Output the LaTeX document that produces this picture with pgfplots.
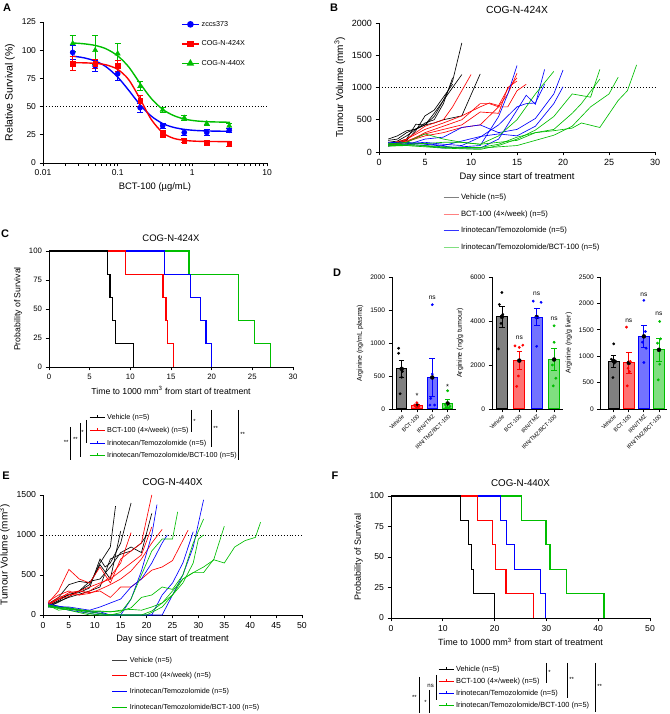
\documentclass[border=0pt]{standalone}
\usepackage{fontspec}
\setmainfont{Liberation Sans}
\usepackage{pgfplots}
\pgfplotsset{compat=1.18}
\definecolor{gpblue}{RGB}{0,0,255}
\definecolor{gpred}{RGB}{255,0,0}
\definecolor{gpgreen}{RGB}{0,190,0}
\definecolor{gpgray}{RGB}{128,128,128}
\newcommand{\fs}[1]{\fontsize{#1}{#1}\selectfont}
\pgfplotsset{
 gp/.style={scale only axis, axis lines*=left, tick align=outside,
  axis line style={line width=0.8pt}, tick style={black, line width=0.8pt},
  major tick length=3.5pt, minor tick num=0,
  tick label style={font=\fs{8.5}},
  xlabel style={font=\fs{9.4}},
  ylabel style={font=\fs{10}},
  title style={font=\fs{10}},
  /pgf/number format/assume math mode=true,
  /pgf/number format/1000 sep={},
  clip=false, legend cell align=left},
 spag/.style={forget plot, line width=0.65pt},
 lineleg/.style={legend image code/.code={\draw[##1, line width=0.8pt] (0pt,0pt) -- (15pt,0pt);}},
 kmleg/.style={legend image code/.code={\draw[##1, line width=1pt] (0pt,0pt) -- (15pt,0pt); \draw[##1, line width=0.8pt] (7.5pt,0pt) -- (7.5pt,2.5pt);}},
 km/.style={forget plot, const plot, line width=1.3pt},
 dax/.style={gp, ymin=0, height=132pt, xtick={0,1,2,3},
  xticklabels={Vehicle,BCT-100,IRN/TMZ,IRN/TMZ/BCT-100},
  xticklabel style={rotate=45, anchor=north east, font=\fs{5.6}, inner sep=1pt},
  yticklabel style={font=\fs{6.6}},
  ylabel style={font=\fs{7}}},
 dbar/.style={forget plot, ybar, bar shift=0pt, line width=1pt},
 derr/.style={forget plot, only marks, mark=none, error bars/.cd, y dir=both, y explicit,
  error bar style={line width=0.8pt, #1}, error mark options={rotate=90, mark size=2.8pt, line width=0.8pt, #1}},
 ddot/.style={forget plot, only marks, mark=*, mark size=1.2pt, #1},
}
\begin{document}
\begin{tikzpicture}[x=1pt,y=1pt]
\useasboundingbox (0,0) rectangle (669,714);
% ---------- A ----------
\begin{axis}[gp, at={(43pt,551pt)}, anchor=south west, width=224pt, height=141pt,
 xmode=log, xmin=0.01, xmax=10, ymin=0, ymax=125,
 xtick={0.01,0.1,1,10}, xticklabels={0.01,0.1,1,10}, minor xtick={},
 ytick={0,25,50,75,100,125},
 xlabel={BCT-100 (µg/mL)}, ylabel={Relative Survival (\%)},
 ylabel style={font=\fs{10.5}},
 legend style={draw=none, fill=none, font=\fs{7.2}, at={(0.616,1.022)}, anchor=north west, row sep=9pt, inner sep=0pt}]
\addplot[forget plot, black, dotted, line width=0.9pt] coordinates {(0.01,50) (10,50)};
\addplot[forget plot, gpgreen, line width=1.4pt, smooth] coordinates {(0.025,106.4) (0.035,105.7) (0.05,104.2) (0.07,101.2) (0.1,95.0) (0.14,85.3) (0.2,70.5) (0.28,57.4) (0.4,47.6) (0.56,42.1) (0.8,38.8) (1.13,37.3) (1.6,36.6) (2.26,36.3) (3.2,36.1)};
\addplot[forget plot, gpblue, line width=1.4pt, smooth] coordinates {(0.025,94.7) (0.035,93.3) (0.05,90.4) (0.07,85.3) (0.1,76.2) (0.14,64.6) (0.2,51.6) (0.28,41.7) (0.4,35.0) (0.56,31.6) (0.8,29.7) (1.13,28.8) (1.6,28.4) (2.26,28.2) (3.2,28.1)};
\addplot[forget plot, gpred, line width=1.4pt, smooth] coordinates {(0.025,88.9) (0.035,88.8) (0.05,88.3) (0.07,87.0) (0.1,83.0) (0.14,74.0) (0.2,56.7) (0.28,38.9) (0.4,26.9) (0.56,21.9) (0.8,20.0) (1.13,19.3) (1.6,19.1) (2.26,19.0) (3.2,19.0)};
\addplot[forget plot, only marks, mark=triangle*, mark size=3pt, gpgreen, error bars/.cd, y dir=both, y explicit, error bar style={line width=1pt, gpgreen}, error mark options={rotate=90, mark size=3pt, line width=1pt, gpgreen}] coordinates {(0.025,106) +- (0,7) (0.05,100) +- (0,13) (0.1,97) +- (0,9) (0.2,68) +- (0,4) (0.4,47) +- (0,2) (0.78,40) +- (0,2) (1.56,35) +- (0,2) (3.125,33) +- (0,2)};
\addplot[forget plot, only marks, mark=*, mark size=2.6pt, gpblue, error bars/.cd, y dir=both, y explicit, error bar style={line width=1pt, gpblue}, error mark options={rotate=90, mark size=3pt, line width=1pt, gpblue}] coordinates {(0.025,98) +- (0,6) (0.05,86) +- (0,5) (0.1,79) +- (0,6) (0.2,49) +- (0,4) (0.4,33) +- (0,2) (0.78,27) +- (0,3) (1.56,27) +- (0,3) (3.125,29) +- (0,2)};
\addplot[forget plot, only marks, mark=square*, mark size=2.4pt, gpred, error bars/.cd, y dir=both, y explicit, error bar style={line width=1pt, gpred}, error mark options={rotate=90, mark size=3pt, line width=1pt, gpred}] coordinates {(0.025,88) +- (0,6) (0.05,88) +- (0,4) (0.1,86) +- (0,5) (0.2,55) +- (0,5) (0.4,26) +- (0,3) (0.78,20) +- (0,2) (1.56,18) +- (0,2) (3.125,17) +- (0,2)};
\addlegendimage{gpblue, line width=1.4pt, mark=*, mark size=2.6pt}
\addlegendentry{zccs373}
\addlegendimage{gpred, line width=1.4pt, mark=square*, mark size=2.4pt}
\addlegendentry{COG-N-424X}
\addlegendimage{gpgreen, line width=1.4pt, mark=triangle*, mark size=3pt}
\addlegendentry{COG-N-440X}
\end{axis}
% ---------- B ----------
\begin{axis}[gp, lineleg, at={(379pt,562pt)}, anchor=south west, width=276pt, height=129pt,
 xmin=0, xmax=30, ymin=0, ymax=2000, xtick={0,5,...,30}, ytick={0,500,...,2000},
 tick label style={font=\fs{9}}, title style={font=\fs{10.3}},
 title={COG-N-424X}, xlabel={Day since start of treatment}, ylabel={Tumour Volume (mm\textsuperscript{3})},
 legend style={draw=none, fill=none, font=\fs{7.7}, at={(0.232,-0.31)}, anchor=north west, row sep=5.5pt, inner sep=0pt}]
\addplot[forget plot, black, dotted, line width=0.9pt] coordinates {(0,1000) (30,1000)};
% vehicle
\addplot[spag, black] coordinates {(1,180) (2,200) (3,300) (5,420) (6,550) (7,800) (8,1100) (9,1690)};
\addplot[spag, black] coordinates {(1,150) (2,170) (3,250) (5,450) (6,500) (7,750) (8,1150)};
\addplot[spag, black] coordinates {(1,200) (2,250) (3,330) (4,350) (5,420) (6,600) (7,800) (8,1000) (9,1200)};
\addplot[spag, black] coordinates {(1,120) (2,150) (3,200) (4,430) (5,420) (6,450) (7,500) (8,530) (9,560) (11,1210)};
\addplot[spag, black] coordinates {(1,110) (2,140) (3,180) (4,330) (5,560) (6,650) (7,850) (8,1050)};
% BCT-100
\addplot[spag, gpred] coordinates {(1,100) (2,110) (3,200) (4,300) (5,400) (6,450) (7,500) (8,700) (9,950) (10,1200)};
\addplot[spag, gpred] coordinates {(1,90) (3,150) (5,300) (7,400) (9,500) (11,750) (12,750) (13,700) (14,900) (15,1220)};
\addplot[spag, gpred] coordinates {(1,110) (3,170) (5,280) (7,350) (9,420) (11,620) (13,600) (14,1000) (15,1100)};
\addplot[spag, gpred] coordinates {(1,100) (3,160) (5,250) (7,300) (9,380) (11,420) (13,700) (14,700) (15,950) (16,1050)};
\addplot[spag, gpred] coordinates {(1,120) (3,200) (5,350) (7,450) (9,560) (11,700) (12,760) (13,720) (14,980) (15,1150)};
% IRN/TMZ
\addplot[spag, gpblue] coordinates {(1,130) (3,120) (5,100) (7,60) (9,80) (11,100) (13,550) (14,900) (15,1340)};
\addplot[spag, gpblue] coordinates {(1,120) (3,150) (5,120) (7,90) (9,60) (11,60) (13,200) (15,650) (16,880) (17,740) (18,1280)};
\addplot[spag, gpblue] coordinates {(1,100) (3,110) (5,200) (7,230) (9,380) (11,420) (13,300) (15,350) (17,520) (19,900) (20,1270)};
\addplot[spag, gpblue] coordinates {(1,150) (3,140) (5,130) (7,100) (9,170) (11,240) (13,280) (15,250) (17,400) (19,750) (20,1010)};
\addplot[spag, gpblue] coordinates {(1,90) (3,130) (5,150) (7,120) (9,100) (11,230) (13,420) (15,700) (16,750) (17,760) (18,1050)};
% combo
\addplot[spag, gpgreen] coordinates {(1,120) (3,150) (5,280) (7,200) (9,150) (11,120) (13,250) (15,500) (17,900) (19,1250)};
\addplot[spag, gpgreen] coordinates {(1,100) (3,100) (5,80) (7,60) (9,50) (11,40) (13,100) (15,200) (17,340) (19,550) (21,900) (23,850) (24,1280)};
\addplot[spag, gpgreen] coordinates {(1,110) (3,120) (5,100) (7,80) (9,70) (11,70) (13,120) (15,230) (17,300) (19,330) (21,370) (22,450) (24,380) (26,800) (27,950) (28,1350)};
\addplot[spag, gpgreen] coordinates {(1,90) (3,100) (5,90) (7,70) (9,60) (11,60) (13,80) (15,100) (17,180) (19,260) (21,400) (23,700) (25,900) (26,1160)};
\addplot[spag, gpgreen] coordinates {(1,130) (3,140) (5,130) (7,150) (9,150) (11,120) (13,150) (15,180) (17,300) (19,350) (21,600) (22,750) (24,1130)};
\addlegendimage{gpgray}\addlegendentry{Vehicle (n=5)}
\addlegendimage{gpred!50}\addlegendentry{BCT-100 (4×/week) (n=5)}
\addlegendimage{gpblue!80}\addlegendentry{Irinotecan/Temozolomide (n=5)}
\addlegendimage{gpgreen!50}\addlegendentry{Irinotecan/Temozolomide/BCT-100 (n=5)}
\end{axis}
% ---------- C ----------
\begin{axis}[gp, kmleg, at={(49pt,347pt)}, anchor=south west, width=244pt, height=116pt,
 xmin=0, xmax=30, ymin=0, ymax=100, xtick={0,5,...,30}, ytick={0,25,...,100},
 tick label style={font=\fs{7.8}}, title style={font=\fs{9.5}},
 xlabel style={font=\fs{8.7}}, ylabel style={font=\fs{8.7}},
 title={COG-N-424X}, xlabel={Time to 1000 mm\textsuperscript{3} from start of treatment}, ylabel={Probability of Survival},
 legend style={draw=none, fill=none, font=\fs{7.2}, at={(0.164,-0.39)}, anchor=north west, row sep=2pt, inner sep=0pt}]
\addplot[km, gpgreen] coordinates {(0,100) (17.2,80) (23.3,40) (25.3,20) (27.2,0)};
\addplot[km, gpblue] coordinates {(0,100) (14.2,80) (17.4,60) (18.6,40) (19.3,20) (20.0,0)};
\addplot[km, gpred] coordinates {(0,100) (9.4,80) (14.0,60) (14.4,40) (14.6,20) (15.3,0)};
\addplot[km, black] coordinates {(0,100) (7.2,80) (7.5,60) (7.8,40) (8.2,20) (10.4,0)};
\addlegendimage{black}\addlegendentry{Vehicle (n=5)}
\addlegendimage{gpred}\addlegendentry{BCT-100 (4×/week) (n=5)}
\addlegendimage{gpblue}\addlegendentry{Irinotecan/Temozolomide (n=5)}
\addlegendimage{gpgreen}\addlegendentry{Irinotecan/Temozolomide/BCT-100 (n=5)}
\end{axis}
% ---------- D1 ----------
\begin{axis}[dax, at={(392pt,305pt)}, anchor=south west, width=64pt, bar width=10.3pt,
 xmin=-0.63, xmax=3.55, ymax=2000, ytick={0,500,...,2000}, ylabel={Arginine (ng/mL plasma)}]
\addplot[dbar, draw=black, fill=gpgray] coordinates {(0,609)};
\addplot[dbar, draw=gpred, fill=gpred!55] coordinates {(1,55)};
\addplot[dbar, draw=gpblue, fill=gpblue!55] coordinates {(2,478)};
\addplot[dbar, draw=gpgreen, fill=gpgreen!50] coordinates {(3,84)};
\addplot[derr=black] coordinates {(0,609) +- (0,130)};
\addplot[derr=gpred] coordinates {(1,55) +- (0,20)};
\addplot[derr=gpblue] coordinates {(2,478) +- (0,290)};
\addplot[derr=gpgreen] coordinates {(3,84) +- (0,60)};
\addplot[ddot=black] coordinates {(-0.2,920) (-0.2,844) (0.05,568) (0,482) (-0.1,231)};
\addplot[ddot=gpred] coordinates {(1,95) (0.85,60) (1.15,50) (0.9,40) (1.1,30)};
\addplot[ddot=gpblue] coordinates {(2,1580) (2,530) (1.9,160) (1.85,60) (2.15,60)};
\addplot[ddot=gpgreen] coordinates {(3,276) (2.85,65) (3.15,40) (2.9,25) (3.1,15)};
\node[font=\fs{7.5}] at (axis cs:1,200) {*};
\node[font=\fs{6.6}] at (axis cs:2,1680) {ns};
\node[font=\fs{7.5}] at (axis cs:3,330) {*};
\end{axis}
% ---------- D2 ----------
\begin{axis}[dax, at={(492pt,305pt)}, anchor=south west, width=70.8pt, bar width=11.3pt,
 xmin=-0.57, xmax=3.5, ymax=6000, ytick={0,2000,...,6000}, ylabel={Arginine (ng/g tumour)}]
\addplot[dbar, draw=black, fill=gpgray] coordinates {(0,4193)};
\addplot[dbar, draw=gpred, fill=gpred!55] coordinates {(1,2200)};
\addplot[dbar, draw=gpblue, fill=gpblue!55] coordinates {(2,4180)};
\addplot[dbar, draw=gpgreen, fill=gpgreen!50] coordinates {(3,2250)};
\addplot[derr=black] coordinates {(0,4193) +- (0,480)};
\addplot[derr=gpred] coordinates {(1,2200) +- (0,400)};
\addplot[derr=gpblue] coordinates {(2,4180) +- (0,390)};
\addplot[derr=gpgreen] coordinates {(3,2250) +- (0,490)};
\addplot[ddot=black] coordinates {(0,5294) (-0.15,4751) (0.05,4300) (-0.05,3890) (-0.2,2730)};
\addplot[ddot=gpred] coordinates {(0.75,2870) (1,2800) (1.2,2900) (0.95,1500) (0.85,1030)};
\addplot[ddot=gpblue] coordinates {(1.8,4900) (2.25,4850) (2.1,4150) (1.95,4150) (2,2850)};
\addplot[ddot=gpgreen] coordinates {(3,3780) (3,3030) (2.9,2000) (3.1,1400) (2.95,1050)};
\node[font=\fs{6.6}] at (axis cs:1,3250) {ns};
\node[font=\fs{6.6}] at (axis cs:2,5250) {ns};
\node[font=\fs{6.6}] at (axis cs:3,4100) {ns};
\end{axis}
% ---------- D3 ----------
\begin{axis}[dax, at={(600.7pt,305pt)}, anchor=south west, width=65.8pt, bar width=11pt,
 xmin=-0.86, xmax=3.5, ymax=2500, ytick={0,500,...,2500}, ylabel={Arginine (ng/g liver)}]
\addplot[dbar, draw=black, fill=gpgray] coordinates {(0,908)};
\addplot[dbar, draw=gpred, fill=gpred!55] coordinates {(1,874)};
\addplot[dbar, draw=gpblue, fill=gpblue!55] coordinates {(2,1375)};
\addplot[dbar, draw=gpgreen, fill=gpgreen!50] coordinates {(3,1120)};
\addplot[derr=black] coordinates {(0,908) +- (0,115)};
\addplot[derr=gpred] coordinates {(1,874) +- (0,200)};
\addplot[derr=gpblue] coordinates {(2,1375) +- (0,200)};
\addplot[derr=gpgreen] coordinates {(3,1120) +- (0,215)};
\addplot[ddot=black] coordinates {(0,1234) (-0.15,943) (0.15,899) (0.05,870) (-0.05,595)};
\addplot[ddot=gpred] coordinates {(0.85,1550) (1.1,900) (0.95,772) (1.05,709) (0.9,437)};
\addplot[ddot=gpblue] coordinates {(2,2057) (2.1,1468) (1.9,1266) (2.15,1152) (2,880)};
\addplot[ddot=gpgreen] coordinates {(3.05,1658) (3.1,1329) (2.9,1247) (3.05,848) (2.95,551)};
\node[font=\fs{6.6}] at (axis cs:1,1680) {ns};
\node[font=\fs{6.6}] at (axis cs:2,2170) {ns};
\node[font=\fs{6.6}] at (axis cs:3,1800) {ns};
\end{axis}
% ---------- E ----------
\begin{axis}[gp, lineleg, at={(43pt,99pt)}, anchor=south west, width=259pt, height=120pt,
 xmin=0, xmax=50, ymin=0, ymax=1500, xtick={0,5,...,50}, ytick={0,500,1000,1500},
 tick label style={font=\fs{8.7}}, xlabel style={font=\fs{9.2}},
 title={COG-N-440X}, xlabel={Day since start of treatment}, ylabel={Tumour Volume (mm\textsuperscript{3})},
 legend style={draw=none, fill=none, font=\fs{7.2}, at={(0.266,-0.33)}, anchor=north west, row sep=5pt, inner sep=0pt}]
\addplot[forget plot, black, dotted, line width=0.9pt] coordinates {(0,1000) (50,1000)};
% vehicle
\addplot[spag, black] coordinates {(1,130) (3,200) (5,250) (7,300) (9,380) (11,650) (13,850) (14,1360)};
\addplot[spag, black] coordinates {(1,120) (3,180) (5,260) (7,280) (9,340) (11,700) (12,600) (13,650) (15,900) (17,1400)};
\addplot[spag, black] coordinates {(1,100) (3,160) (5,230) (7,300) (9,420) (11,450) (13,600) (15,780) (17,850) (19,780) (21,1270)};
\addplot[spag, black] coordinates {(1,140) (3,220) (5,380) (7,420) (9,400) (10,500) (11,630) (13,450) (15,1050)};
\addplot[spag, black] coordinates {(1,110) (3,170) (5,220) (7,260) (9,300) (11,350) (13,700) (15,760) (17,800) (19,900) (20,1000)};
% BCT-100
\addplot[spag, gpred] coordinates {(1,150) (3,300) (5,570) (7,450) (9,400) (11,600) (13,400) (15,700) (17,800) (19,900) (21,1500)};
\addplot[spag, gpred] coordinates {(1,170) (3,250) (5,300) (7,250) (9,300) (11,380) (13,480) (15,650) (17,1030)};
\addplot[spag, gpred] coordinates {(1,140) (3,200) (5,280) (7,300) (9,350) (11,400) (13,450) (15,550) (17,650) (19,750) (21,1100)};
\addplot[spag, gpred] coordinates {(1,130) (3,220) (5,260) (7,250) (9,270) (11,320) (13,380) (15,450) (17,550) (19,700) (21,900) (23,1070)};
\addplot[spag, gpred] coordinates {(1,120) (3,200) (5,230) (7,300) (9,280) (11,300) (13,220) (15,350) (17,350) (19,450) (21,560) (23,600) (25,680) (28,1060)};
% IRN/TMZ
\addplot[spag, gpblue] coordinates {(1,120) (3,100) (5,80) (7,60) (9,40) (11,20) (13,0) (15,0) (17,200) (19,550) (21,1000) (22,1380)};
\addplot[spag, gpblue] coordinates {(1,110) (3,100) (5,100) (7,80) (9,60) (11,100) (13,150) (15,200) (17,350) (19,450) (21,650) (23,900) (24,1000)};
\addplot[spag, gpblue] coordinates {(1,130) (3,110) (5,80) (7,60) (9,40) (11,20) (13,0) (21,0) (23,250) (25,400) (27,650) (29,1040)};
\addplot[spag, gpblue] coordinates {(1,100) (3,90) (5,60) (7,40) (9,20) (11,0) (23,0) (25,250) (27,500) (29,850) (31,1440)};
\addplot[spag, gpblue] coordinates {(1,140) (3,110) (5,90) (7,60) (9,50) (11,40) (13,0) (15,0)};
% combo
\addplot[spag, gpgreen] coordinates {(1,120) (3,60) (5,80) (7,50) (9,20) (11,0) (13,0) (15,30) (17,200) (19,500) (21,800) (23,950) (25,950) (26,1290)};
\addplot[spag, gpgreen] coordinates {(1,110) (3,80) (5,70) (7,60) (9,50) (11,50) (13,40) (15,50) (17,90) (19,220) (21,250) (23,350) (25,320) (27,500) (29,900) (31,1200)};
\addplot[spag, gpgreen] coordinates {(1,130) (3,100) (5,90) (7,70) (9,50) (11,40) (13,40) (15,60) (17,70) (19,60) (21,100) (23,150) (25,300) (27,450) (29,530) (31,530) (33,700) (35,1110)};
\addplot[spag, gpgreen] coordinates {(1,100) (3,90) (5,60) (7,30) (9,0) (19,0) (21,50) (23,150) (25,250) (27,450) (29,530) (31,600) (33,690) (35,650) (37,850) (39,930) (41,970) (42,1160)};
\addplot[spag, gpgreen] coordinates {(1,120) (3,90) (5,80) (7,60) (9,40) (11,20) (13,0) (20,0) (23,100) (25,250) (27,400) (29,650) (30,950) (31,1000)};
\addlegendimage{black!75}\addlegendentry{Vehicle (n=5)}
\addlegendimage{gpred}\addlegendentry{BCT-100 (4×/week) (n=5)}
\addlegendimage{gpblue}\addlegendentry{Irinotecan/Temozolomide (n=5)}
\addlegendimage{gpgreen}\addlegendentry{Irinotecan/Temozolomide/BCT-100 (n=5)}
\end{axis}
% ---------- F ----------
\begin{axis}[gp, kmleg, at={(391pt,96pt)}, anchor=south west, width=259pt, height=122pt,
 xmin=0, xmax=50, ymin=0, ymax=100, xtick={0,10,...,50}, ytick={0,25,...,100},
 tick label style={font=\fs{8.6}}, xlabel style={font=\fs{9}}, ylabel style={font=\fs{9}}, title style={font=\fs{9.8}},
 title={COG-N-440X}, xlabel={Time to 1000 mm\textsuperscript{3} from start of treatment}, ylabel={Probability of Survival},
 legend style={draw=none, fill=none, font=\fs{7.4}, at={(0.181,-0.38)}, anchor=north west, row sep=1pt, inner sep=0pt}]
\addplot[km, gpgreen] coordinates {(0,100) (25.2,80) (29.9,60) (30.7,40) (33.9,20) (41.1,0)};
\addplot[km, gpblue] coordinates {(0,100) (21.2,80) (22.3,60) (23.9,40) (28.9,20) (29.8,0)};
\addplot[km, gpred] coordinates {(0,100) (16.7,80) (19.6,60) (20.2,40) (22.2,20) (27.5,0)};
\addplot[km, black] coordinates {(0,100) (13.4,80) (15.0,60) (15.5,40) (15.9,20) (20.0,0)};
\addlegendimage{black}\addlegendentry{Vehicle (n=5)}
\addlegendimage{gpred}\addlegendentry{BCT-100 (4×/week) (n=5)}
\addlegendimage{gpblue}\addlegendentry{Irinotecan/Temozolomide (n=5)}
\addlegendimage{gpgreen}\addlegendentry{Irinotecan/Temozolomide/BCT-100 (n=5)}
\end{axis}
% ---------- significance brackets ----------
\begin{scope}[line width=0.5pt, every node/.style={font=\fs{6}, inner sep=1pt}]
% C right
\draw (191,304) -- (191,282); \node[anchor=west] at (192,293) {*};
\draw (211,304) -- (211,267); \node[anchor=west] at (212,286) {**};
\draw (238,304) -- (238,254); \node[anchor=west] at (239,280) {**};
% C left
\draw (86,294) -- (86,271); \node[anchor=east] at (85,282) {*};
\draw (80,291) -- (80,257); \node[anchor=east] at (79,275) {**};
\draw (70.7,287) -- (70.7,254); \node[anchor=east] at (69.7,272) {**};
% F right
\draw (546,51) -- (546,31); \node[anchor=west] at (547,42) {*};
\draw (567,51) -- (567,16); \node[anchor=west] at (568,35) {**};
\draw (595,51) -- (595,2); \node[anchor=west] at (596,28) {**};
% F left
\draw (436,39) -- (436,14); \node[anchor=east] at (435,28) {ns};
\draw (429,24) -- (429,1); \node[anchor=east] at (428,12) {*};
\draw (419,37) -- (419,1); \node[anchor=east] at (418,17) {**};
\end{scope}
% ---------- panel letters ----------
\begin{scope}[every node/.style={font=\bfseries\fs{11}, inner sep=0pt}]
\node at (7,706) {A};
\node at (334,706) {B};
\node at (5,480) {C};
\node at (337,441) {D};
\node at (6,238) {E};
\node at (335,238) {F};
\end{scope}
\end{tikzpicture}
\end{document}
